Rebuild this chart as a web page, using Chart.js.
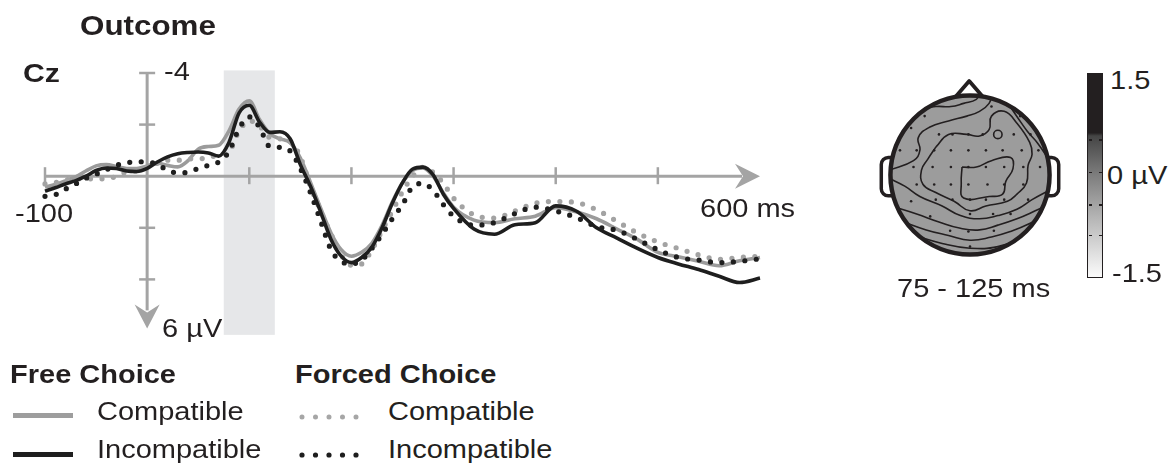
<!DOCTYPE html>
<html>
<head>
<meta charset="utf-8">
<script src="https://cdn.jsdelivr.net/npm/chart.js@4.4.1/dist/chart.umd.min.js"></script>
<style>
html,body{margin:0;padding:0;background:#fff;width:1174px;height:466px;overflow:hidden;
  font-family:"Liberation Sans",Arial,Helvetica,sans-serif;color:#231f20;}
.lbl{position:absolute;white-space:nowrap;line-height:1;font-size:25px;transform-origin:0 50%;transform:scaleX(1.16);}
.b{font-weight:bold;}
canvas{position:absolute;}
#cbar{position:absolute;left:1087px;top:73px;width:14px;height:203px;border:1.5px solid #231f20;
  background:linear-gradient(to bottom,#231f20 0%,#231f20 29%,#454545 30.5%,#7e7e7e 50%,#b8b8b8 72%,#fbfbfb 100%);}
.ct{position:absolute;width:3px;height:1.5px;background:#231f20;}
</style>
</head>
<body>
<canvas id="erp" width="800" height="350" style="left:0;top:0"></canvas>
<canvas id="topo" width="220" height="220" style="left:860px;top:65px"></canvas>
<div id="cbar"></div>

<div class="lbl b" style="left:80px;top:12.3px;font-size:28px;transform:scaleX(1.12)">Outcome</div>
<div class="lbl b" style="left:23px;top:60.3px;font-size:26px">Cz</div>
<div class="lbl" style="left:164px;top:58.7px">-4</div>
<div class="lbl" style="left:15px;top:200.7px">-100</div>
<div class="lbl" style="left:700px;top:195.7px">600 ms</div>
<div class="lbl" style="left:162px;top:315.7px">6 µV</div>
<div class="lbl" style="left:897px;top:275.7px">75 - 125 ms</div>
<div class="lbl" style="left:1110px;top:67.7px">1.5</div>
<div class="lbl" style="left:1107px;top:162.7px">0 µV</div>
<div class="lbl" style="left:1112px;top:260.7px">-1.5</div>

<div class="lbl b" style="left:10px;top:361.7px" id="lgA"></div>
<div class="lbl b" style="left:295px;top:361.7px" id="lgB"></div>
<div class="lbl" style="left:97px;top:398.7px" id="lg1"></div>
<div class="lbl" style="left:97px;top:436.7px" id="lg2"></div>
<div class="lbl" style="left:388px;top:398.7px" id="lg3"></div>
<div class="lbl" style="left:388px;top:436.7px" id="lg4"></div>

<svg width="400" height="80" style="position:absolute;left:0;top:390px" viewBox="0 390 400 80">
  <line x1="13" x2="73" y1="415.5" y2="415.5" stroke="#9d9d9d" stroke-width="5"/>
  <line x1="13" x2="73" y1="454.5" y2="454.5" stroke="#1e1e1e" stroke-width="5"/>
  <line x1="302" x2="357" y1="417" y2="417" stroke="#a6a6a6" stroke-width="5" stroke-linecap="round" stroke-dasharray="0 13.5"/>
  <line x1="302" x2="357" y1="455" y2="455" stroke="#1e1e1e" stroke-width="5.2" stroke-linecap="round" stroke-dasharray="0 13.5"/>
</svg>

<script>
// ---------------- data ----------------
const timesMs = [-100,-90,-80,-70,-60,-50,-40,-30,-20,-10,
  0,10,20,30,40,50,60,70,80,90,
  100,110,120,130,140,150,160,170,180,190,
  200,210,220,230,240,250,260,270,280,290,
  300,320,340,360,380,400,420,440,460,480,500,520,540,560,580,600];

const freeCompatible = [0.42,0.32,0.18,0.03,-0.2,-0.4,-0.45,-0.38,-0.3,-0.3,
  -0.4,-0.5,-0.42,-0.36,-0.6,-1.05,-1.15,-1.2,-1.75,-2.6,
  -2.92,-2.2,-1.65,-1.45,-1.3,-0.7,0.25,1.25,2.2,2.85,
  3.1,2.95,2.6,1.9,1.0,0.25,-0.22,-0.32,0.0,0.65,
  1.2,1.7,1.8,1.65,1.55,1.22,1.38,1.65,2.05,2.45,2.95,3.12,3.3,3.47,3.28,3.15];

const freeIncompatible = [0.58,0.45,0.3,0.17,0.0,-0.22,-0.32,-0.3,-0.2,-0.18,
  -0.3,-0.55,-0.75,-0.87,-0.92,-0.94,-0.9,-0.78,-1.3,-2.45,
  -2.75,-2.1,-1.7,-1.72,-1.45,-0.45,0.4,1.4,2.45,3.1,
  3.35,3.15,2.75,2.0,1.05,0.25,-0.28,-0.35,-0.05,0.7,
  1.25,2.05,2.25,1.88,1.8,1.15,1.35,2.0,2.4,2.8,3.15,3.4,3.62,3.88,4.12,3.95];

const forcedCompatible = [0.3,0.25,0.15,0.1,0.1,0.1,0.1,0.0,-0.17,-0.2,
  -0.35,-0.5,-0.62,-0.62,-0.67,-0.68,-0.7,-0.85,-0.95,-1.75,
  -2.15,-1.95,-1.5,-1.45,-1.35,-0.75,0.4,1.35,2.25,3.05,
  3.45,3.4,2.85,2.1,1.35,0.6,0.0,-0.35,-0.15,0.28,
  0.85,1.5,1.62,1.35,1.05,0.98,1.02,1.3,1.75,2.2,2.55,2.8,3.05,3.22,3.15,3.1];

const forcedIncompatible = [0.78,0.72,0.5,0.3,0.08,-0.08,-0.25,-0.42,-0.52,-0.56,
  -0.55,-0.46,-0.23,-0.13,-0.15,-0.3,-0.42,-0.55,-0.95,-1.85,
  -2.3,-1.9,-1.15,-1.12,-0.98,-0.3,0.65,1.75,2.85,3.3,
  3.4,3.25,2.8,2.25,1.65,1.1,0.4,0.28,0.55,1.1,
  1.55,1.9,1.8,1.45,1.2,1.35,1.6,1.95,2.1,2.45,2.85,3.15,3.25,3.35,3.3,3.2];

const shadeWindowMs = [75, 125];
const xTickValues = [-100, 100, 200, 300, 400, 500];
const yTickValues = [-4, -2, 2, 4];
const xAxisRange = [-100, 600];
const yAxisRange = [-4, 5.9];

const legendGroups = ['Free Choice', 'Forced Choice'];
const legendItems = ['Compatible', 'Incompatible', 'Compatible', 'Incompatible'];

// topography (normalised head coordinates, nose up)
const contourInner = [[-0.10,0.10],[0.08,0.10],[0.27,0.18],[0.51,0.22],[0.54,0.08],[0.45,-0.08],[0.41,-0.24],[0.24,-0.27],[-0.08,-0.29],[-0.11,-0.10],[-0.10,0.10]];
const contourMiddle = [[-0.43,0.35],[-0.27,0.51],[-0.04,0.51],[0.12,0.49],[0.24,0.57],[0.27,0.74],[0.43,0.80],[0.59,0.65],[0.75,0.41],[0.78,0.26],[0.73,0.12],[0.71,-0.10],[0.59,-0.24],[0.47,-0.33],[0.20,-0.39],[0.0,-0.45],[-0.20,-0.33],[-0.43,-0.22],[-0.59,-0.12],[-0.61,0.06],[-0.53,0.20],[-0.43,0.35]];
const contourUpperLeft = [[-1.02,0.06],[-0.71,0.18],[-0.63,0.31],[-0.65,0.47],[-0.51,0.60],[-0.27,0.68],[-0.04,0.74],[0.12,0.80],[0.24,0.90],[0.28,1.03]];
const contourOuterLeft = [[-0.85,0.62],[-0.78,0.69],[-0.63,0.82],[-0.43,0.86],[-0.24,0.86],[-0.08,0.90],[0.08,0.95],[0.12,1.03]];
const contourRight = [[0.45,0.94],[0.60,0.72],[0.72,0.55],[0.85,0.40],[1.0,0.18]];
const contourOuterRight = [[0.62,0.84],[0.75,0.68],[0.86,0.52],[0.97,0.33]];
const contourLowerBand = [[1.02,-0.18],[0.78,-0.31],[0.59,-0.43],[0.35,-0.51],[0.12,-0.55],[-0.12,-0.51],[-0.35,-0.39],[-0.63,-0.27],[-0.82,-0.14],[-1.02,-0.04]];
const contourBackA = [[-0.96,-0.40],[-0.67,-0.49],[-0.39,-0.59],[-0.12,-0.67],[0.12,-0.69],[0.35,-0.63],[0.59,-0.55],[0.82,-0.45],[0.99,-0.37]];
const contourBackB = [[-0.86,-0.58],[-0.55,-0.69],[-0.27,-0.76],[0.0,-0.82],[0.27,-0.78],[0.51,-0.71],[0.75,-0.61],[0.94,-0.50]];
const contourBackC = [[-0.73,-0.75],[-0.35,-0.86],[0.0,-0.92],[0.35,-0.90],[0.67,-0.78],[0.87,-0.66]];
const contourRing = [[0.35,0.51]];
const electrodes = [
  [0.27,0.86],[-0.57,0.74],[0.63,0.74],[-0.74,0.59],
  [-0.39,0.51],[-0.22,0.51],[-0.02,0.51],[0.16,0.51],[0.55,0.51],[0.76,0.51],
  [-0.88,0.31],[-0.67,0.31],[-0.45,0.31],[-0.24,0.31],[-0.02,0.31],[0.20,0.31],[0.41,0.31],[0.65,0.31],[0.86,0.31],
  [-0.71,0.10],[-0.47,0.10],[-0.24,0.10],[-0.02,0.10],[0.20,0.10],[0.43,0.10],[0.67,0.10],[0.88,0.10],
  [-0.67,-0.12],[-0.45,-0.12],[-0.24,-0.12],[-0.02,-0.12],[0.22,-0.12],[0.43,-0.12],[0.67,-0.12],
  [-0.74,-0.33],[-0.43,-0.31],[-0.22,-0.31],[0.0,-0.31],[0.20,-0.31],[0.43,-0.31],[0.73,-0.31],
  [-0.50,-0.52],[0.0,-0.49],[0.29,-0.49],[0.51,-0.49],
  [-0.25,-0.70],[-0.02,-0.71],[0.30,-0.70],
  [0.0,-0.90]
];
const colorbarTickFractions = [0.32, 0.48, 0.64, 0.79];

// ---------------- legend text ----------------
document.getElementById('lgA').textContent = legendGroups[0];
document.getElementById('lgB').textContent = legendGroups[1];
['lg1','lg2','lg3','lg4'].forEach((id,i)=>document.getElementById(id).textContent = legendItems[i]);

// colorbar ticks
colorbarTickFractions.forEach(f=>{
  const top = 73 + 1.5 + f*203;
  [1088.5, 1098.5].forEach(l=>{
    const d=document.createElement('div'); d.className='ct';
    d.style.left=l+'px'; d.style.top=top+'px'; document.body.appendChild(d);
  });
});

// ---------------- ERP chart ----------------
const toPts = arr => timesMs.map((t,i)=>({x:t, y:arr[i]}));

function arrowHead(ctx, tx, ty, dir){
  ctx.beginPath();
  if (dir==='right'){
    ctx.moveTo(tx,ty); ctx.lineTo(tx-25,ty-12.5); ctx.lineTo(tx-17,ty); ctx.lineTo(tx-25,ty+12.5);
  } else {
    ctx.moveTo(tx,ty); ctx.lineTo(tx-12.5,ty-24); ctx.lineTo(tx,ty-16); ctx.lineTo(tx+12.5,ty-24);
  }
  ctx.closePath(); ctx.fill();
}

const erpAxes = {
  id:'erpAxes',
  beforeDatasetsDraw(chart){
    const {ctx, scales:{x,y}} = chart;
    const x0 = x.getPixelForValue(0), y0 = y.getPixelForValue(0);
    ctx.save();
    const sx1 = x.getPixelForValue(shadeWindowMs[0]), sx2 = x.getPixelForValue(shadeWindowMs[1]);
    const sy1 = y.getPixelForValue(-4.1), sy2 = y.getPixelForValue(6.15);
    ctx.fillStyle = '#e6e7e9';
    ctx.fillRect(sx1, sy1, sx2-sx1, sy2-sy1);
    ctx.strokeStyle = '#a4a4a4'; ctx.fillStyle = '#a4a4a4'; ctx.lineWidth = 3;
    const xa = x.getPixelForValue(xAxisRange[0]), xb = x.getPixelForValue(xAxisRange[1]);
    ctx.beginPath(); ctx.moveTo(xa, y0); ctx.lineTo(xb-18, y0); ctx.stroke();
    arrowHead(ctx, xb, y0, 'right');
    const ya = y.getPixelForValue(yAxisRange[0]), yb = y.getPixelForValue(yAxisRange[1]);
    ctx.beginPath(); ctx.moveTo(x0, ya); ctx.lineTo(x0, yb-18); ctx.stroke();
    arrowHead(ctx, x0, yb, 'down');
    ctx.lineWidth = 2.5;
    xTickValues.forEach(v=>{
      const px = x.getPixelForValue(v);
      ctx.beginPath(); ctx.moveTo(px, y0-9); ctx.lineTo(px, y0+8); ctx.stroke();
    });
    yTickValues.forEach(v=>{
      const py = y.getPixelForValue(v);
      ctx.beginPath(); ctx.moveTo(x0-8, py); ctx.lineTo(x0+8, py); ctx.stroke();
    });
    ctx.restore();
  }
};

const solid = (data, color, order) => ({data: toPts(data), borderColor: color, borderWidth: 3.6,
  pointRadius: 0, cubicInterpolationMode: 'monotone', fill: false, clip: 8, order});
const dotted = (data, color, w, order) => ({data: toPts(data), borderColor: color, borderWidth: w,
  borderDash: [0, 11.5], borderCapStyle: 'round', pointRadius: 0, cubicInterpolationMode: 'monotone',
  fill: false, clip: 8, order});

new Chart(document.getElementById('erp'), {
  type: 'line',
  data: { datasets: [
    Object.assign(solid(freeCompatible, '#9b9b9b', 3), {label: 'Free Choice Compatible'}),
    Object.assign(dotted(forcedCompatible, '#a3a3a3', 5.2, 2), {label: 'Forced Choice Compatible'}),
    Object.assign(dotted(forcedIncompatible, '#1e1e1e', 5.2, 1), {label: 'Forced Choice Incompatible'}),
    Object.assign(solid(freeIncompatible, '#1e1e1e', 0), {label: 'Free Choice Incompatible'})
  ]},
  options: {
    responsive: false, animation: false, devicePixelRatio: 1,
    layout: { padding: {left: 45, right: 40, top: 73, bottom: 19} },
    scales: {
      x: { type: 'linear', min: -100, max: 600, display: false },
      y: { type: 'linear', min: -4, max: 6, reverse: true, display: false }
    },
    plugins: { legend: {display: false}, tooltip: {enabled: false} },
    events: []
  },
  plugins: [erpAxes]
});

// ---------------- topographic map ----------------
const headPlugin = {
  id:'head',
  beforeDatasetsDraw(chart){
    const {ctx, scales:{x,y}} = chart;
    const cx = x.getPixelForValue(0), cy = y.getPixelForValue(0);
    const r = x.getPixelForValue(1) - cx;
    ctx.save();
    ctx.lineJoin = 'round';
    ctx.strokeStyle = '#231f20'; ctx.fillStyle = '#ffffff';
    // nose
    ctx.lineWidth = 3.8;
    ctx.beginPath();
    ctx.moveTo(x.getPixelForValue(-0.2), y.getPixelForValue(0.96));
    ctx.lineTo(x.getPixelForValue(-0.01), y.getPixelForValue(1.18));
    ctx.lineTo(x.getPixelForValue(0.18), y.getPixelForValue(0.96));
    ctx.closePath(); ctx.fill(); ctx.stroke();
    // ears
    ctx.lineWidth = 3.5;
    [-1, 1].forEach(s=>{
      const xo = x.getPixelForValue(s*1.115), xi = x.getPixelForValue(s*0.9);
      const yt = y.getPixelForValue(0.22), yb2 = y.getPixelForValue(-0.26);
      const left = Math.min(xo, xi), w = Math.abs(xi - xo);
      ctx.beginPath();
      if (s < 0) ctx.roundRect(left, yt, w, yb2 - yt, [7, 0, 0, 7]);
      else ctx.roundRect(left, yt, w, yb2 - yt, [0, 7, 7, 0]);
      ctx.fill(); ctx.stroke();
    });
    // scalp fill
    ctx.fillStyle = '#9c9c9c';
    ctx.beginPath(); ctx.arc(cx, cy, r, 0, Math.PI*2); ctx.fill();
    ctx.restore();
    ctx.save();
    ctx.beginPath(); ctx.arc(cx, cy, r, 0, Math.PI*2); ctx.clip();
  },
  afterDatasetsDraw(chart){
    const {ctx, scales:{x,y}} = chart;
    ctx.restore();
    const cx = x.getPixelForValue(0), cy = y.getPixelForValue(0);
    const r = x.getPixelForValue(1) - cx;
    ctx.save();
    ctx.strokeStyle = '#231f20'; ctx.lineWidth = 4.5;
    ctx.beginPath(); ctx.arc(cx, cy, r, 0, Math.PI*2); ctx.stroke();
    ctx.restore();
  }
};

const pairPts = arr => arr.map(p=>({x:p[0], y:p[1]}));
const contourSet = [contourInner, contourMiddle, contourUpperLeft, contourOuterLeft, contourRight,
  contourOuterRight, contourLowerBand, contourBackA, contourBackB, contourBackC];
const topoDatasets = contourSet.map(c=>({data: pairPts(c), showLine: true, borderColor:'#231f20',
  borderWidth: 1.6, pointRadius: 0, tension: 0.45, fill: false}));
topoDatasets.push({data: pairPts(electrodes), showLine:false, pointRadius: 1.3, pointBorderWidth: 0,
  pointBackgroundColor:'#231f20'});
topoDatasets.push({data: pairPts(contourRing), showLine:false, pointRadius: 4.2, pointBorderWidth: 1.6,
  pointBorderColor:'#231f20', pointBackgroundColor:'rgba(0,0,0,0)'});

const lim = 110/84;
new Chart(document.getElementById('topo'), {
  type: 'scatter',
  data: { datasets: topoDatasets },
  options: {
    responsive:false, animation:false, devicePixelRatio: 1,
    layout: {padding: 0},
    scales: { x: {min:-lim, max:lim, display:false}, y: {min:-lim, max:lim, display:false} },
    plugins: {legend:{display:false}, tooltip:{enabled:false}},
    events: []
  },
  plugins: [headPlugin]
});
</script>
</body>
</html>
